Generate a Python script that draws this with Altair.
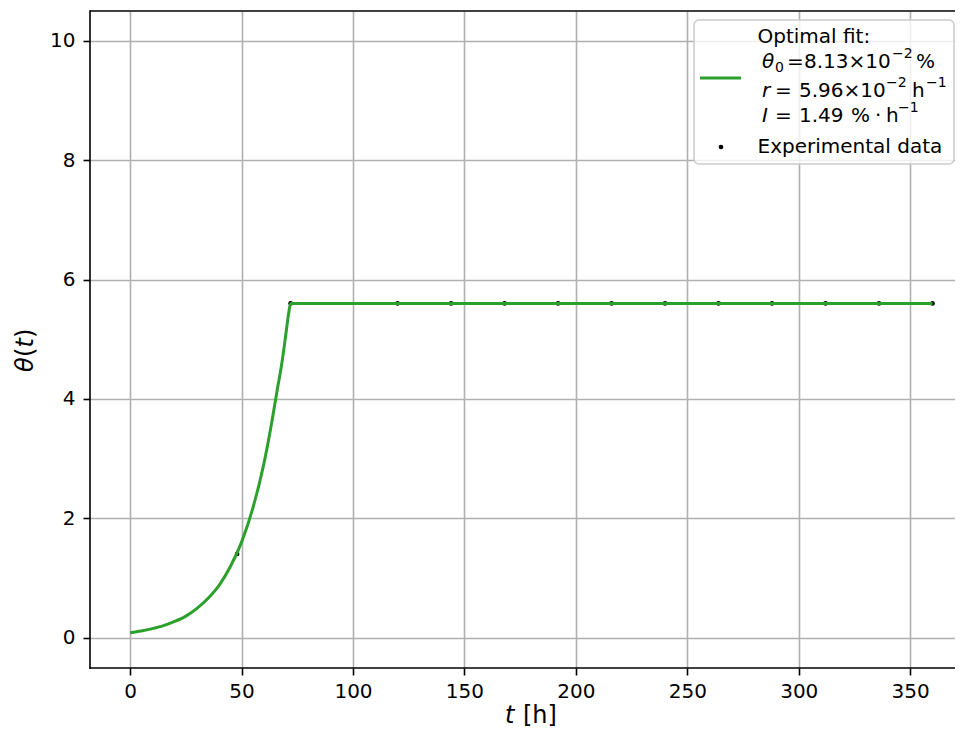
import altair as alt
import pandas as pd

# ---- data ----
fit_t = [0, 5, 10, 15, 20, 25, 30, 35, 40, 45, 50, 55, 60, 63, 66, 68, 70, 71, 72, 120, 240, 360]
fit_theta = [0.08, 0.11, 0.15, 0.20, 0.27, 0.36, 0.49, 0.66, 0.88, 1.19, 1.60, 2.16, 2.91,
             3.49, 4.15, 4.58, 5.12, 5.40, 5.60, 5.60, 5.60, 5.60]
exp_t = [48, 72, 120, 144, 168, 192, 216, 240, 264, 288, 312, 336, 360]
exp_theta = [1.40, 5.60, 5.60, 5.60, 5.60, 5.60, 5.60, 5.60, 5.60, 5.60, 5.60, 5.60, 5.60]
x_ticks = [0, 50, 100, 150, 200, 250, 300, 350]
y_ticks = [0, 2, 4, 6, 8, 10]

fit_df = pd.DataFrame({"t": fit_t, "theta": fit_theta})
exp_df = pd.DataFrame({"t": exp_t, "theta": exp_theta})
one = pd.DataFrame({"a": [0]})

FONT = "DejaVu Sans"
W, H = 865, 657
GREEN = "#2ca02c"
LX = -5  # legend horizontal shift (page is a few px narrower than the reference crop)

xscale = alt.Scale(domain=[-18, 370.1], nice=False, zero=False)
yscale = alt.Scale(domain=[-0.51, 10.5], nice=False, zero=False)

common_axis = dict(
    title="", grid=True, gridColor="#b0b0b0", gridWidth=1.6, domain=False,
    tickColor="black", tickWidth=1.6,
    tickSize=7, labelFont=FONT, labelFontSize=20, labelColor="black", format="d",
)


def xenc():
    return alt.X("t:Q", scale=xscale,
                 axis=alt.Axis(values=x_ticks, labelPadding=6, **common_axis))


def yenc():
    return alt.Y("theta:Q", scale=yscale,
                 axis=alt.Axis(values=y_ticks, labelPadding=8, **common_axis))


points = alt.Chart(exp_df).mark_circle(color="black", opacity=1, size=22).encode(
    x=xenc(), y=yenc()
)

line = alt.Chart(fit_df).mark_line(color=GREEN, strokeWidth=3, interpolate="monotone").encode(
    x=xenc(), y=yenc(), order="t:Q"
)

top_spine = alt.Chart(one).mark_rule(color="black", strokeWidth=1.6).encode(
    x=alt.value(0), x2=alt.value(W), y=alt.value(0)
)
bottom_spine = alt.Chart(one).mark_rule(color="black", strokeWidth=1.6).encode(
    x=alt.value(-0.8), x2=alt.value(W), y=alt.value(H)
)
left_spine = alt.Chart(one).mark_rule(color="black", strokeWidth=1.6).encode(
    x=alt.value(0), y=alt.value(-0.8), y2=alt.value(H + 0.8)
)

legend_box = alt.Chart(one).mark_rect(
    cornerRadius=5, fill="white", fillOpacity=0.8, stroke="#cccccc", strokeWidth=1.6
).encode(x=alt.value(609 + LX), x2=alt.value(869 + LX), y=alt.value(9), y2=alt.value(153))

legend_line = alt.Chart(one).mark_rule(color=GREEN, strokeWidth=3).encode(
    x=alt.value(615 + LX), x2=alt.value(656 + LX), y=alt.value(67)
)
legend_dot = alt.Chart(one).mark_circle(color="black", opacity=1, size=22).encode(
    x=alt.value(636 + LX), y=alt.value(136)
)

# (text, x, y, size, italic, angle, in_legend) -- positions in plot pixels
pieces = [
    ("Optimal fit:", 672.5, 32, 20, False, 0, True),
    # line 2
    ("θ", 677, 57.3, 20, True, 0, True),
    ("0", 690, 60.5, 14, False, 0, True),
    ("=", 702, 57.3, 20, False, 0, True),
    ("8.13×10", 719, 57.3, 20, False, 0, True),
    ("−2", 807, 47.3, 14, False, 0, True),
    ("%", 831, 57.3, 20, False, 0, True),
    # line 3
    ("r", 677, 85.7, 20, True, 0, True),
    ("=", 690, 85.7, 20, False, 0, True),
    ("5.96×10", 714, 85.7, 20, False, 0, True),
    ("−2", 801, 75.7, 14, False, 0, True),
    ("h", 827, 85.7, 20, False, 0, True),
    ("−1", 841, 75.7, 14, False, 0, True),
    # line 4
    ("I", 677, 110.7, 20, True, 0, True),
    ("=", 690, 110.7, 20, False, 0, True),
    ("1.49", 714, 110.7, 20, False, 0, True),
    ("%", 766, 110.7, 20, False, 0, True),
    ("·", 790, 110.7, 20, False, 0, True),
    ("h", 801, 110.7, 20, False, 0, True),
    ("−1", 813, 100.7, 14, False, 0, True),
    ("Experimental data", 672.5, 142.3, 20, False, 0, True),
    # x-axis title
    ("t", 415, 712, 24, True, 0, False),
    ("[h]", 433, 712, 24, False, 0, False),
    # y-axis title (rotated)
    ("θ", -57, 361, 24, True, 270, False),
    ("(", -57, 346, 24, False, 270, False),
    ("t", -57, 336.5, 24, True, 270, False),
    (")", -57, 327, 24, False, 270, False),
]

text_layers = []
for txt, px, py, sz, it, ang, leg in pieces:
    kw = dict(text=txt, fontSize=sz, font=FONT, color="black", align="left",
              baseline="alphabetic")
    if it:
        kw["fontStyle"] = "italic"
    if ang:
        kw["angle"] = ang
    text_layers.append(
        alt.Chart(one).mark_text(**kw).encode(
            x=alt.value(px + (LX if leg else 0)), y=alt.value(py)
        )
    )

chart = alt.layer(
    points, line, top_spine, bottom_spine, left_spine,
    legend_box, legend_line, legend_dot, *text_layers
).properties(
    width=W, height=H,
    autosize=alt.AutoSizeParams(type="none"),
    padding={"left": 82, "top": 3, "right": 0, "bottom": 61},
).configure_view(stroke="transparent", strokeWidth=0)

chart.save("out.html", embed_options={"renderer": "svg", "actions": False})
